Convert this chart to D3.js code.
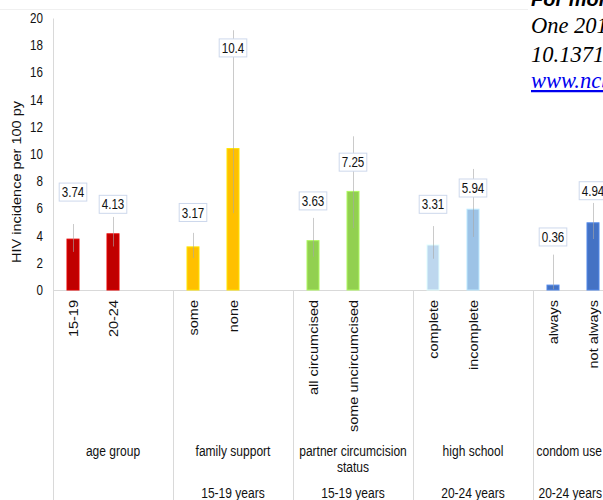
<!DOCTYPE html>
<html><head><meta charset="utf-8">
<script src="https://cdn.jsdelivr.net/npm/d3@7/dist/d3.min.js"></script>
<style>
body{margin:0;background:#fff;overflow:hidden}
svg{display:block;font-family:Arial,"Liberation Sans",sans-serif}
</style></head><body>
<svg id="c" width="603" height="500"></svg>
<script>
const groups = ["age group","family support","partner circumcision|status","high school","condom use"];
const subgroups = ["","15-19 years","15-19 years","20-24 years","20-24 years"];
const categories = ["15-19","20-24","some","none","all circumcised","some uncircumcised","complete","incomplete","always","not always"];
const groupOf = [0,0,1,1,2,2,3,3,4,4];
const values = [3.74,4.13,3.17,10.4,3.63,7.25,3.31,5.94,0.36,4.94];
const ciLow  = [2.8,3.2,2.35,5.65,2.45,4.55,2.3,3.9,0.05,3.75];
const ciHigh = [4.85,5.37,4.2,19.1,5.3,11.3,4.7,8.9,2.6,6.4];
const labelAt = [7.2,6.3,5.7,17.8,6.55,9.4,6.3,7.5,3.9,7.3];
const yTicks = [0,2,4,6,8,10,12,14,16,18,20];
const colors = ["#c00000","#c00000","#ffc000","#ffc000","#92d050","#92d050","#bdd7ee","#9dc3e6","#4472c4","#4472c4"];
const noteLines = ["For more information","One 2018; 13(4): e0195535","10.1371/journal.pone.0195535","www.ncbi.nlm.nih.gov"];

const svg = d3.select("#c");
const W = 603;
const SX = 0.83;
const left = 53, groupW = 120;
const x0 = d3.scaleBand().domain(d3.range(groups.length)).range([left, left + groupW*groups.length]);
const x1 = d3.scaleBand().domain([0,1,2]).range([0, x0.bandwidth()]);
const y = d3.scaleLinear().domain([0,20]).range([290,18]);
const barW = 12;
const cx = i => x0(groupOf[i]) + x1(categories.slice(0,i).filter((c,j)=>groupOf[j]===groupOf[i]).length) + x1.bandwidth()/2;

// faint top line
svg.append("line").attr("x1",0).attr("x2",528).attr("y1",9.5).attr("y2",9.5).attr("stroke","#f0f0f0");

// y axis
const yAxis = d3.axisLeft(y).tickValues(yTicks).tickSize(0).tickPadding(10);
const ga = svg.append("g").attr("transform",`translate(${left},0)`).call(yAxis);
ga.select(".domain").attr("stroke","#d9d9d9");
ga.selectAll("text").attr("font-size","14px").attr("fill","#111")
  .attr("font-family","Arial,'Liberation Sans',sans-serif")
  .attr("transform",function(){const xx=+d3.select(this).attr("x")||-10;return `translate(${xx*(1-SX)},0) scale(${SX},1)`;});

// axis title
svg.append("text").attr("transform",`translate(21,182) scale(${SX},1) rotate(-90)`)
  .attr("text-anchor","middle").attr("font-size","14.5px").attr("fill","#111").text("HIV incidence per 100 py");

// baseline
svg.append("line").attr("x1",left).attr("x2",700).attr("y1",y(0)+0.5).attr("y2",y(0)+0.5).attr("stroke","#d9d9d9");
// separators
groups.forEach((g,k)=>{
  const xx = x0(k) + x0.bandwidth();
  svg.append("line").attr("x1",xx+0.5).attr("x2",xx+0.5).attr("y1",y(0)).attr("y2",500).attr("stroke","#d9d9d9");
});
svg.append("line").attr("x1",left+0.5).attr("x2",left+0.5).attr("y1",y(0)).attr("y2",500).attr("stroke","#d9d9d9");

// bars
const idx = d3.range(values.length);
svg.selectAll("rect.bar").data(idx).join("rect").attr("class","bar")
  .attr("x",i=>cx(i)-barW/2).attr("width",barW)
  .attr("y",i=>y(values[i])).attr("height",i=>y(0)-y(values[i]))
  .attr("fill",i=>colors[i]).attr("stroke",i=>d3.color(colors[i]).brighter(0.5)).attr("stroke-width",1);

// error bars
svg.selectAll("line.err").data(idx).join("line").attr("class","err")
  .attr("x1",i=>cx(i)+0.5).attr("x2",i=>cx(i)+0.5)
  .attr("y1",i=>y(ciLow[i])).attr("y2",i=>y(ciHigh[i]))
  .attr("stroke","#a6a6a6").attr("stroke-opacity",0.6).attr("stroke-width",1);

// value labels
idx.forEach(i=>{
  const g = svg.append("g").attr("transform",`translate(${cx(i)},${y(labelAt[i])})`);
  const t = g.append("text").attr("text-anchor","middle").attr("dy","0.36em")
    .attr("font-size","14px").attr("fill","#111").attr("transform",`scale(${SX},1)`).text(values[i]);
  const w = t.node().getComputedTextLength()*SX;
  g.insert("rect","text").attr("x",-w/2-2.5).attr("y",-9).attr("width",w+5).attr("height",18)
    .attr("fill","#fff").attr("stroke","#cdd8ec").attr("stroke-width",1);
});

// category labels
idx.forEach(i=>{
  svg.append("text").attr("transform",`translate(${cx(i)+5},300) scale(${SX},1) rotate(-90)`)
    .attr("text-anchor","end").attr("font-size","14.5px").attr("fill","#111").text(categories[i]);
});

// group labels (kept inside the visible area)
function centred(txt, mid, yy){
  const t = svg.append("text").attr("text-anchor","middle").attr("font-size","14.5px").attr("fill","#111").text(txt);
  const w = t.node().getComputedTextLength()*SX;
  const m = Math.min(mid, W - 1 - w/2);
  t.attr("transform",`translate(${m},${yy}) scale(${SX},1)`);
}
groups.forEach((g,k)=>{
  const mid = x0(k)+x0.bandwidth()/2;
  g.split("|").forEach((ln,j)=>centred(ln, mid, 456+j*16));
  if(subgroups[k]) centred(subgroups[k], mid, 498);
});

// note text (top right)
const nx = 531;
svg.append("text").attr("x",nx).attr("y",6).attr("font-size","20px").attr("font-weight","bold")
  .attr("font-style","italic").attr("fill","#000").text(noteLines[0]);
[1,2].forEach((k,j)=>svg.append("text").attr("x",nx).attr("y",33+j*29)
  .attr("font-family","'Liberation Serif','Times New Roman',serif").attr("font-style","italic")
  .attr("font-size","22.5px").attr("fill","#000").text(noteLines[k]));
svg.append("text").attr("x",nx).attr("y",88)
  .attr("font-family","'Liberation Serif','Times New Roman',serif").attr("font-style","italic")
  .attr("font-size","22.5px").attr("fill","#0000ee").attr("text-decoration","underline").text(noteLines[3]);
</script></body></html>
